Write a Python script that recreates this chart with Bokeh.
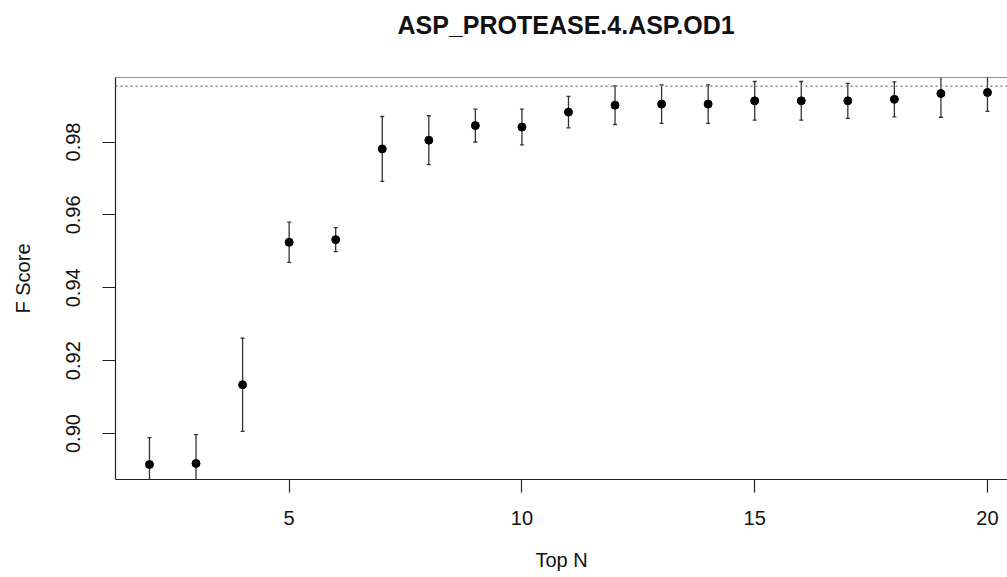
from bokeh.plotting import figure
from bokeh.models import (ColumnDataSource, Range1d, FixedTicker, PrintfTickFormatter,
                          Span, Title)
from bokeh.embed import file_html
from bokeh.resources import INLINE

# ---- data ----
top_n = [2, 3, 4, 5, 6, 7, 8, 9, 10, 11, 12, 13, 14, 15, 16, 17, 18, 19, 20]
f_mean = [0.8915, 0.8918, 0.9134, 0.9525, 0.9532, 0.9781, 0.9805, 0.9845, 0.9841,
          0.9882, 0.9901, 0.9904, 0.9904, 0.9913, 0.9913, 0.9913, 0.9917, 0.9933, 0.9936]
f_err = [0.0074, 0.0079, 0.0128, 0.0055, 0.0033, 0.0089, 0.0067, 0.0045, 0.0049,
         0.0043, 0.0053, 0.0053, 0.0053, 0.0053, 0.0053, 0.0048, 0.0048, 0.0065, 0.0052]
ref_line = 0.9953
x_ticks = [5, 10, 15, 20]
y_ticks = [0.90, 0.92, 0.94, 0.96, 0.98]
title_text = "ASP_PROTEASE.4.ASP.OD1"
x_label = "Top N"
y_label = "F Score"

FONT = "Liberation Sans"
Y0, Y1 = 0.8874, 0.9977

src = ColumnDataSource(dict(
    x=top_n, y=f_mean,
    lo=[m - e for m, e in zip(f_mean, f_err)],
    hi=[m + e for m, e in zip(f_mean, f_err)],
))

p = figure(width=1007, height=577, output_backend="svg", toolbar_location=None,
           x_range=Range1d(1.27, 20.43), y_range=Range1d(Y0, Y1),
           min_border_left=115, min_border_right=0, min_border_top=77,
           min_border_bottom=98)
p.outline_line_color = None
p.xgrid.visible = False
p.ygrid.visible = False
p.background_fill_color = "white"
p.border_fill_color = "white"

# axes
for ax in (p.xaxis[0], p.yaxis[0]):
    ax.axis_line_color = "#222222"
    ax.axis_line_width = 1.2
    ax.major_tick_line_color = "#222222"
    ax.major_tick_line_width = 1.2
    ax.major_tick_in = 0
    ax.major_tick_out = 13
    ax.minor_tick_line_color = None
    ax.major_label_text_font = FONT
    ax.major_label_text_font_size = "20px"
    ax.major_label_text_color = "#111111"
    ax.axis_label_text_font = FONT
    ax.axis_label_text_font_size = "20px"
    ax.axis_label_text_font_style = "normal"
    ax.axis_label_text_color = "#111111"

p.xaxis.ticker = FixedTicker(ticks=x_ticks)
p.xaxis.major_label_standoff = 18
p.xaxis.axis_label = x_label
p.xaxis.axis_label_standoff = 21

p.yaxis.ticker = FixedTicker(ticks=y_ticks)
p.yaxis.formatter = PrintfTickFormatter(format="%.2f")
p.yaxis.major_label_orientation = "vertical"
p.yaxis.major_label_standoff = 22
p.yaxis.axis_label = y_label
p.yaxis.axis_label_standoff = 30

# top border of the box
p.add_layout(Span(location=Y1, dimension="width", line_color="#222222", line_width=1.2))

# dotted reference line
p.add_layout(Span(location=ref_line, dimension="width", line_color="#8a8a8a",
                  line_width=1.5, line_dash="2 3"))

# error bars
p.segment(x0="x", y0="lo", x1="x", y1="hi", source=src, line_color="#333333", line_width=1.3)
p.scatter(x="x", y="lo", source=src, marker="dash", size=4, line_color="#333333", line_width=1.3)
p.scatter(x="x", y="hi", source=src, marker="dash", size=4, line_color="#333333", line_width=1.3)

# points
p.scatter(x="x", y="y", source=src, marker="circle", size=8,
          fill_color="black", line_color="black")

# spacer between the box and the title, then the title (centred on the full R plot region)
p.add_layout(Title(text=" ", text_font_size="1px", standoff=36), "above")
p.add_layout(Title(text=title_text, align="left", offset=282, standoff=0,
                   text_font=FONT, text_font_size="25px", text_font_style="bold",
                   text_color="#111111", vertical_align="bottom"), "above")

open("out.html", "w").write(file_html(p, INLINE))
